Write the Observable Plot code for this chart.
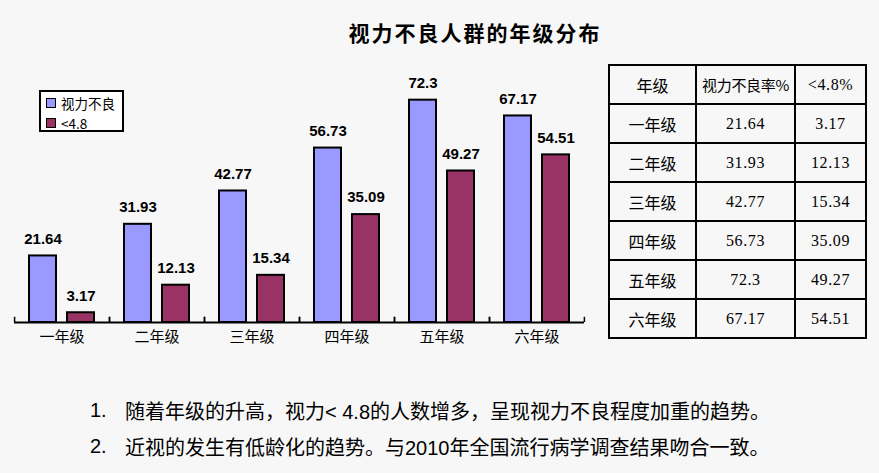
<!DOCTYPE html>
<html><head><meta charset="utf-8">
<script src="https://cdn.jsdelivr.net/npm/d3@7"></script>
<script src="https://cdn.jsdelivr.net/npm/@observablehq/plot@0.6"></script>
<style>
body{margin:0;background:#f7f7f7;width:879px;height:473px;position:relative;overflow:hidden;font-family:"Liberation Sans","Noto Sans CJK SC",sans-serif;color:#000;}
#title{position:absolute;left:0;width:950px;top:17px;text-align:center;font-family:"Noto Sans CJK SC",sans-serif;font-weight:bold;font-size:21px;letter-spacing:2px;line-height:30px;}
#chart{position:absolute;left:0;top:60px;}
#legend{position:absolute;left:39px;top:90px;width:81px;height:38px;border:2px solid #000;background:#fff;box-sizing:content-box;}
.li{position:absolute;left:5px;height:14px;display:flex;align-items:center;font-family:"Noto Sans CJK SC",sans-serif;font-size:13.5px;line-height:14px;}
.sw{width:8px;height:8px;border:1.5px solid #000;margin-right:5px;}
#tbl{position:absolute;left:608px;top:64px;border-collapse:collapse;table-layout:fixed;width:251px;}
#tbl td{border:2px solid #000;text-align:center;padding:0;height:37px;font-size:16px;white-space:nowrap;overflow:hidden;}
#tbl td.c{font-family:"Noto Sans CJK SC",sans-serif;}
#tbl td.h{font-size:15px;letter-spacing:-0.3px;}
#tbl td.n{font-family:"Liberation Serif",serif;letter-spacing:0.6px;}
#notes{position:absolute;left:90px;top:392px;font-size:20px;}
.nl{display:flex;height:36px;align-items:center;}
.nn{width:35px;font-family:"Liberation Sans",sans-serif;}
</style></head>
<body>
<div id="title"></div>
<div id="chart"></div>
<div id="legend"></div>
<table id="tbl"></table>
<div id="notes"></div>
<script>
const chartTitle = "视力不良人群的年级分布";
const grades = ["一年级", "二年级", "三年级", "四年级", "五年级", "六年级"];
const series = ["视力不良", "<4.8"];
const seriesColors = ["#9999ff", "#993366"];
const poorVision = [21.64, 31.93, 42.77, 56.73, 72.3, 67.17];
const below48 = [3.17, 12.13, 15.34, 35.09, 49.27, 54.51];
const tableHeader = ["年级", "视力不良率%", "<4.8%"];
const notes = [
  "随着年级的升高，视力< 4.8的人数增多，呈现视力不良程度加重的趋势。",
  "近视的发生有低龄化的趋势。与2010年全国流行病学调查结果吻合一致。"
];

document.getElementById("title").textContent = chartTitle;

const rows = grades.flatMap((g, i) => [
  {grade: g, s: series[0], v: poorVision[i]},
  {grade: g, s: series[1], v: below48[i]}
]);

const chart = Plot.plot({
  width: 600,
  height: 302,
  marginTop: 16,
  marginLeft: 12,
  marginRight: 15,
  marginBottom: 40,
  style: {background: "transparent", fontFamily: "'Liberation Sans','Noto Sans CJK SC',sans-serif", overflow: "visible", color: "#000"},
  fx: {domain: grades, padding: 0, label: null},
  x: {domain: series, paddingInner: 0.3, paddingOuter: 0.385, axis: null},
  y: {domain: [0, 80], axis: null},
  color: {domain: series, range: seriesColors},
  marks: [
    Plot.barY(rows, {fx: "grade", x: "s", y: "v", fill: "s", stroke: "#000", strokeWidth: 2}),
    Plot.text(rows, {fx: "grade", x: "s", y: "v", text: d => String(d.v), dy: -17, fontWeight: "bold", fontSize: 15, fill: "#000"}),
    Plot.ruleY([0], {stroke: "#000", strokeWidth: 2}),
    Plot.ruleX([series[0]], {x: d => d, y1: 0, y2: 1.7, dx: -28.4, stroke: "#000", strokeWidth: 1.5}),
    Plot.ruleX([series[1]], {x: d => d, y1: 0, y2: 1.7, dx: 28.4, stroke: "#000", strokeWidth: 1.5}),
    Plot.axisFx({anchor: "bottom", tickSize: 0, tickPadding: 9, fontSize: 15, label: null, fontFamily: "'Noto Sans CJK SC',sans-serif"})
  ]
});
document.getElementById("chart").appendChild(chart);

// legend
const lg = document.getElementById("legend");
series.forEach((s, i) => {
  const d = document.createElement("div");
  d.className = "li";
  d.style.top = (4 + i * 20) + "px";
  const sw = document.createElement("div");
  sw.className = "sw";
  sw.style.background = seriesColors[i];
  const t = document.createElement("span");
  t.textContent = s;
  d.appendChild(sw); d.appendChild(t);
  lg.appendChild(d);
});

// table
const colW = [85, 97, 69];
const tbl = document.getElementById("tbl");
const hr = document.createElement("tr");
tableHeader.forEach((h, j) => {
  const td = document.createElement("td");
  td.textContent = h;
  td.className = (j === 2 ? "n" : "c") + (j === 1 ? " h" : "");
  td.style.width = colW[j] + "px";
  hr.appendChild(td);
});
tbl.appendChild(hr);
grades.forEach((g, i) => {
  const tr = document.createElement("tr");
  [g, String(poorVision[i]), String(below48[i])].forEach((v, j) => {
    const td = document.createElement("td");
    td.textContent = v;
    td.className = j === 0 ? "c" : "n";
    tr.appendChild(td);
  });
  tbl.appendChild(tr);
});

// notes
const nt = document.getElementById("notes");
notes.forEach((n, i) => {
  const d = document.createElement("div");
  d.className = "nl";
  const a = document.createElement("span");
  a.className = "nn";
  a.textContent = (i + 1) + ".";
  const b = document.createElement("span");
  b.textContent = n;
  d.appendChild(a); d.appendChild(b);
  nt.appendChild(d);
});
</script>
</body></html>
